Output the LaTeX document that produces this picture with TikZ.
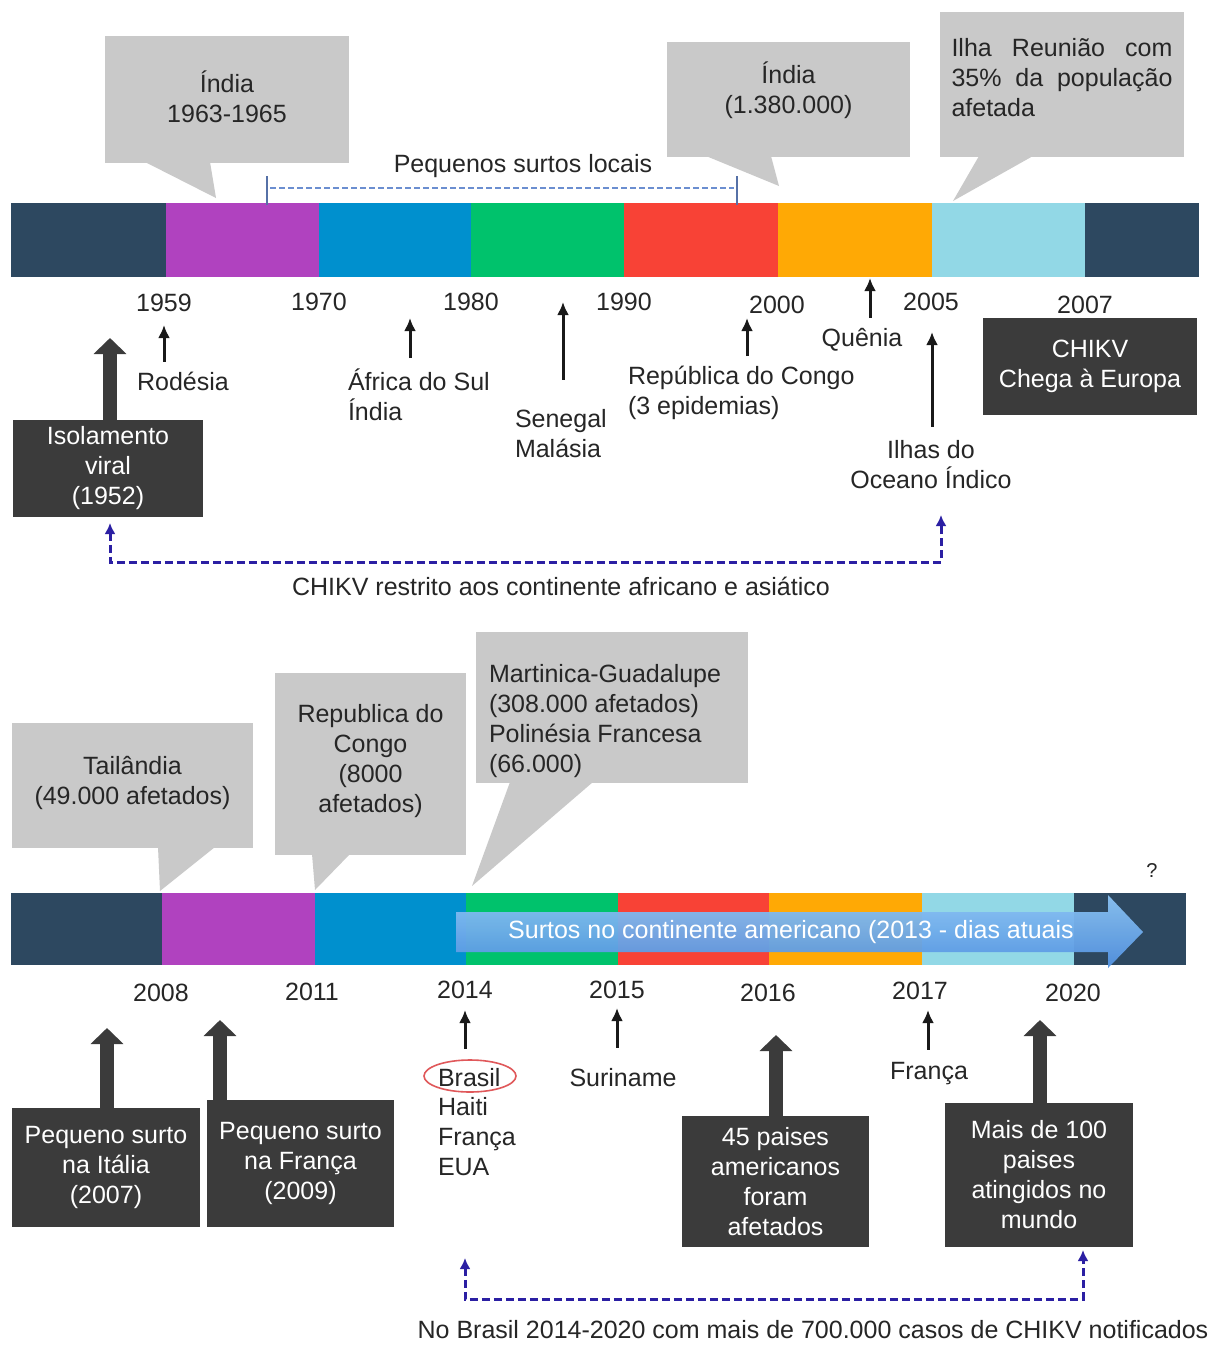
\documentclass[tikz,border=0pt]{standalone}
\usepackage{fontspec}
\setmainfont{Liberation Sans}
\usetikzlibrary{arrows.meta,shapes.geometric,calc}
\definecolor{cnavy}{HTML}{2D4860}
\definecolor{cpurple}{HTML}{B042BF}
\definecolor{cblue}{HTML}{0090CE}
\definecolor{cgreen}{HTML}{00C26C}
\definecolor{cred}{HTML}{F84236}
\definecolor{corange}{HTML}{FFA905}
\definecolor{clight}{HTML}{92D8E6}
\definecolor{cgray}{HTML}{C9C9C9}
\definecolor{cdark}{HTML}{3B3B3B}
\definecolor{ctext}{HTML}{262626}
\definecolor{cviolet}{HTML}{2B1FA3}
\definecolor{cdash}{HTML}{6B8ED0}
\definecolor{cellipse}{HTML}{E0585A}
\definecolor{carrowA}{HTML}{8CC4F4}
\definecolor{carrowB}{HTML}{5393E2}
\begin{document}
\begin{tikzpicture}[x=1pt,y=-1pt,
  every node/.style={font=\fontsize{25}{30}\selectfont, inner sep=0pt, outer sep=0pt},
  lbl/.style={text=ctext},
  callbox/.style={fill=cgray},
  darkbox/.style={fill=cdark, text=white, align=center},
  tarr/.style={line width=3pt, draw=black!90, -{Latex[length=13pt,width=12pt]}},
  bigarr/.style={line width=14pt, draw=cdark, -{Triangle[length=16pt,width=32pt]}},
  vdash/.style={line width=3pt, draw=cviolet, dash pattern=on 8pt off 4pt,
     {Latex[length=11pt,width=11pt]}-{Latex[length=11pt,width=11pt]}}]
\useasboundingbox[fill=white] (0,0) rectangle (1223,1345);

% ================= TOP TIMELINE =================
\foreach \a/\b/\c in {11/166/cnavy,166/319/cpurple,319/471/cblue,471/624/cgreen,624/778/cred,778/932/corange,932/1085/clight,1085/1199/cnavy}
  \fill[\c] (\a,203) rectangle (\b,277);

% callouts
\node[callbox, minimum width=244pt, minimum height=127pt] (c1) at (227,99.5) {};
\fill[cgray] (145,162) -- (216,198) -- (210,162) -- cycle;
\node[lbl, align=center] (c1t) at (227,97) {Índia\\1963-1965};

\node[callbox, minimum width=243pt, minimum height=115pt] (c2) at (788.5,99.5) {};
\fill[cgray] (706,156) -- (779,186) -- (771,156) -- cycle;
\node[lbl, align=center] (c2t) at (788.5,90) {Índia\\(1.380.000)};

\node[callbox, minimum width=244pt, minimum height=145pt] (c3) at (1062,84.5) {};
\fill[cgray] (979,156) -- (953,201) -- (1033,156) -- cycle;
\node[lbl, text width=221pt, align=justify] (c3t) at (1062,78) {Ilha Reunião com\linebreak 35\% da população\linebreak afetada};

% local outbreaks bracket
\node[lbl] (peq) at (523,166) {Pequenos surtos locais};
\draw[cdash!80!black, line width=2pt] (267,176) -- (267,205);
\draw[cdash!80!black, line width=2pt] (737,176) -- (737,205);
\draw[cdash, line width=2pt, dash pattern=on 6pt off 3pt] (270,188) -- (734,188);

% years
\node[lbl] (y1959) at (164,303) {1959};
\node[lbl] (y1970) at (319,302) {1970};
\node[lbl] (y1980) at (471,302) {1980};
\node[lbl] (y1990) at (624,302) {1990};
\node[lbl] (y2000) at (777,305) {2000};
\node[lbl] (y2005) at (931,302) {2005};
\node[lbl] (y2007) at (1085,305) {2007};

% labels
\node[lbl, outer ysep=10pt] (rod) at (183,381) {Rodésia};
\node[lbl, align=left, anchor=west, outer ysep=11pt] (afr) at (348,395) {África do Sul\\Índia};
\node[lbl, align=left, anchor=west, outer ysep=30pt] (sen) at (515,434) {Senegal\\Malásia};
\node[lbl, align=left, anchor=west, outer ysep=10pt] (rdc) at (628,393) {República do Congo\\(3 epidemias)};
\node[lbl, outer ysep=11pt] (que) at (862,340) {Quênia};
\node[lbl, align=center, outer ysep=14pt] (ilh) at (931,465) {Ilhas do\\Oceano Índico};

\coordinate (t1) at (164,325);
\coordinate (t2) at (410,318);
\coordinate (t3) at (563,302);
\coordinate (t4) at (747,318);
\coordinate (t5) at (870,278);
\coordinate (t6) at (932,332);
\draw[tarr] (rod.north -| t1) -- (t1);
\draw[tarr] (afr.north -| t2) -- (t2);
\draw[tarr] (sen.north -| t3) -- (t3);
\draw[tarr] (rdc.north -| t4) -- (t4);
\draw[tarr] (que.north -| t5) -- (t5);
\draw[tarr] (ilh.north -| t6) -- (t6);

% dark boxes
\node[darkbox, minimum width=190pt, minimum height=97pt] (iso) at (108,468.5) {Isolamento\\viral\\(1952)};
\coordinate (b1) at (110,338);
\draw[bigarr] (iso.north -| b1) -- (b1);
\node[darkbox, minimum width=214pt, minimum height=97pt] (eur) at (1090,366.5) {CHIKV\\Chega à Europa};

% restricted range
\coordinate (d1c) at (941,562);
\coordinate (d1e) at (941,515);
\draw[vdash] ($(iso.south)+(2,6)$) |- (d1c) -- (d1e);
\node[lbl] (restr) at (561,586) {CHIKV restrito aos continente africano e asiático};

% ================= BOTTOM TIMELINE =================
\foreach \a/\b/\c in {11/162/cnavy,162/315/cpurple,315/466/cblue,466/618/cgreen,618/769/cred,769/922/corange,922/1074/clight,1074/1186/cnavy}
  \fill[\c] (\a,893) rectangle (\b,965);

\shade[top color=carrowA, bottom color=carrowB, opacity=0.95]
  (456,912) -- (1108,912) -- (1108,895) -- (1143,932) -- (1108,968) -- (1108,952) -- (456,952) -- cycle;
\node[text=white] (surtos) at (791,932) {Surtos no continente americano (2013 - dias atuais};
\node[lbl, font=\fontsize{20}{24}\selectfont] (q) at (1152,871) {?};

% callouts
\node[callbox, minimum width=241pt, minimum height=125pt] (c4) at (132.5,785.5) {};
\fill[cgray] (158,847) -- (160,891) -- (215,847) -- cycle;
\node[lbl, align=center] (c4t) at (132.5,783) {Tailândia\\(49.000 afetados)};

\node[callbox, minimum width=191pt, minimum height=182pt] (c5) at (370.5,764) {};
\fill[cgray] (312,854) -- (315,890) -- (350,854) -- cycle;
\node[lbl, align=center] (c5t) at (370.5,761.5) {Republica do\\Congo\\(8000\\afetados)};

\node[callbox, minimum width=272pt, minimum height=151pt] (c6) at (612,707.5) {};
\fill[cgray] (510,782) -- (472,886) -- (593,782) -- cycle;
\node[lbl, align=left, anchor=west] (c6t) at (489,721) {Martinica-Guadalupe\\(308.000 afetados)\\Polinésia Francesa\\(66.000)};

% years
\node[lbl] (y2008) at (161,993) {2008};
\node[lbl] (y2011) at (312,992) {2011};
\node[lbl] (y2014) at (465,990) {2014};
\node[lbl] (y2015) at (617,990) {2015};
\node[lbl] (y2016) at (768,993) {2016};
\node[lbl] (y2017) at (920,991) {2017};
\node[lbl] (y2020) at (1073,993) {2020};

% labels
\node[lbl, anchor=west] (bra) at (438,1078) {Brasil};
\node[ellipse, draw=cellipse, line width=1.6pt, minimum width=92pt, minimum height=32pt, outer ysep=11pt] (brel) at (470,1076) {};
\node[lbl, align=left, anchor=north west] (hai) at (438,1097) {Haiti\\França\\EUA};
\node[lbl, outer ysep=21pt] (sur) at (623,1078) {Suriname};
\node[lbl, outer ysep=13pt] (fra) at (929,1074) {França};

\coordinate (t7) at (465,1010);
\coordinate (t8) at (617,1008);
\coordinate (t9) at (928,1010);
\draw[tarr] (brel.north -| t7) -- (t7);
\draw[tarr] (sur.north -| t8) -- (t8);
\draw[tarr] (fra.north -| t9) -- (t9);

% dark boxes
\node[darkbox, minimum width=188pt, minimum height=119pt] (ita) at (106,1167.5) {Pequeno surto\\na Itália\\(2007)};
\node[darkbox, minimum width=187pt, minimum height=127pt] (frb) at (300.5,1163.5) {Pequeno surto\\na França\\(2009)};
\node[darkbox, minimum width=187pt, minimum height=131pt] (p45) at (775.5,1181.5) {45 paises\\americanos\\foram\\afetados};
\node[darkbox, minimum width=188pt, minimum height=144pt] (mais) at (1039,1175) {Mais de 100\\paises\\atingidos no\\mundo};

\coordinate (b2) at (107,1028);
\coordinate (b3) at (220,1020);
\coordinate (b4) at (776,1035);
\coordinate (b5) at (1040,1020);
\draw[bigarr] (ita.north -| b2) -- (b2);
\draw[bigarr] (frb.north -| b3) -- (b3);
\draw[bigarr] (p45.north -| b4) -- (b4);
\draw[bigarr] (mais.north -| b5) -- (b5);

% Brazil range
\coordinate (d2s) at (465,1258);
\coordinate (d2c) at (1083,1299);
\draw[vdash] (d2s) |- (d2c) -- ($(mais.south)+(44,3)$);
\node[lbl] (brtxt) at (813,1330) {No Brasil 2014-2020 com mais de 700.000 casos de CHIKV notificados};
\end{tikzpicture}
\end{document}
